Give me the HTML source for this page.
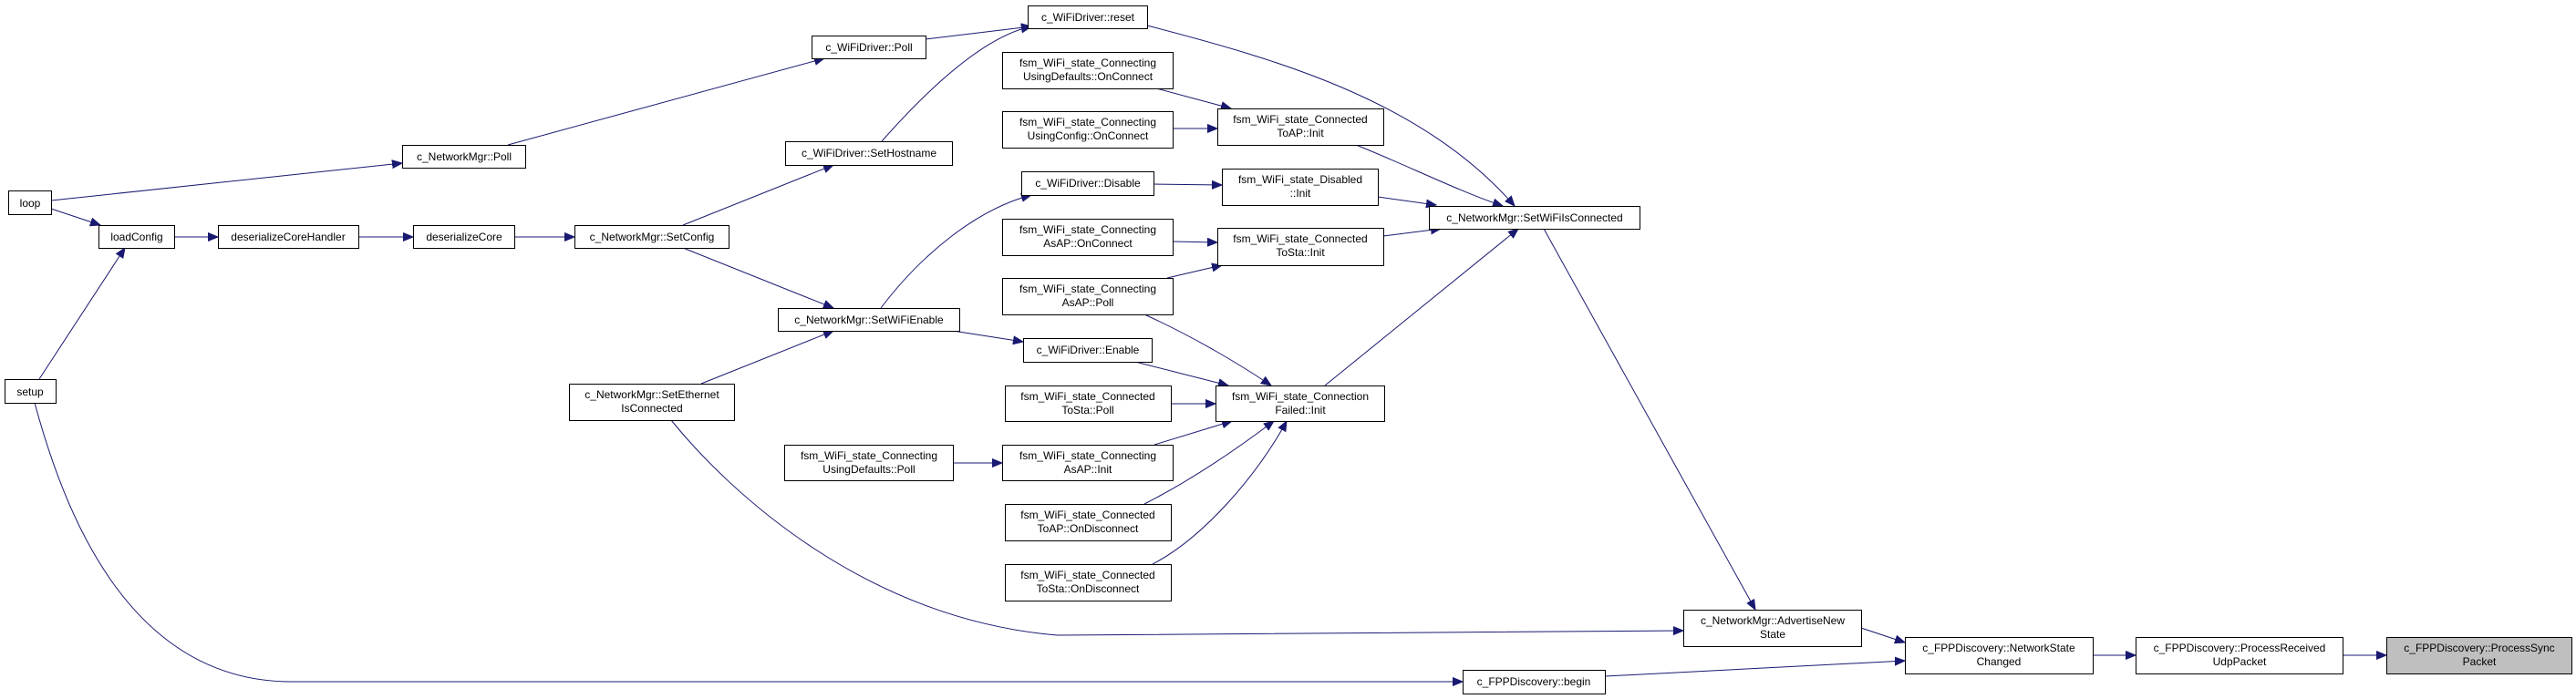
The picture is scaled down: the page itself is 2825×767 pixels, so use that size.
<!DOCTYPE html>
<html><head><meta charset="utf-8"><style>
html,body{margin:0;padding:0;background:#fff}
svg{display:block}
text{font-family:"Liberation Sans",sans-serif;font-size:12px;fill:#000;text-anchor:middle}
.n{fill:#fff;stroke:#000;stroke-width:1}
.e{fill:none;stroke:#191970;stroke-width:1}
</style></head><body>
<svg width="2825" height="767" viewBox="0 0 2825 767" xmlns="http://www.w3.org/2000/svg">
<defs><marker id="a" markerUnits="userSpaceOnUse" markerWidth="12" markerHeight="10" refX="11" refY="5" orient="auto"><path d="M0,0.5 L11,5 L0,9.5 z" fill="#191970" stroke="#191970"/></marker></defs>
<g marker-end="url(#a)">
<path class="e" d="M56,220 L441,179"/>
<path class="e" d="M56,229 L110,247"/>
<path class="e" d="M43,416 L137,272"/>
<path class="e" d="M38,442 C70,560 140,748 320,748 L1604,748"/>
<path class="e" d="M191,260 L239,260"/>
<path class="e" d="M393,260 L453,260"/>
<path class="e" d="M564,260 L630,260"/>
<path class="e" d="M557,159 L904,64"/>
<path class="e" d="M749,247 L914,181"/>
<path class="e" d="M749,272 L914,338"/>
<path class="e" d="M769,421 L914,363"/>
<path class="e" d="M736,461 C800,540 950,680 1160,697 L1846,692"/>
<path class="e" d="M1015,43 L1131,29"/>
<path class="e" d="M967,155 C1020,95 1080,40 1131,29"/>
<path class="e" d="M966,338 C1010,280 1070,230 1131,214"/>
<path class="e" d="M1045,363 L1122,375"/>
<path class="e" d="M1258,28 C1400,65 1560,110 1661,226"/>
<path class="e" d="M1268,97 L1350,119"/>
<path class="e" d="M1286,141 L1335,141"/>
<path class="e" d="M1487,159 C1540,180 1600,210 1648,226"/>
<path class="e" d="M1265,202 L1340,203"/>
<path class="e" d="M1511,216 L1575,225"/>
<path class="e" d="M1286,265 L1335,266"/>
<path class="e" d="M1517,259 L1580,251"/>
<path class="e" d="M1280,305 L1340,291"/>
<path class="e" d="M1255,345 C1310,370 1360,400 1394,423"/>
<path class="e" d="M1245,397 L1347,423"/>
<path class="e" d="M1284,443 L1333,443"/>
<path class="e" d="M1045,508 L1099,508"/>
<path class="e" d="M1266,488 L1351,462"/>
<path class="e" d="M1255,553 C1310,525 1360,490 1397,462"/>
<path class="e" d="M1264,619 C1320,590 1380,520 1411,462"/>
<path class="e" d="M1453,423 L1665,251"/>
<path class="e" d="M1693,251 L1925,669"/>
<path class="e" d="M2041,689 L2089,705"/>
<path class="e" d="M1760,742 L2089,725"/>
<path class="e" d="M2295,719 L2342,719"/>
<path class="e" d="M2569,719 L2617,719"/>
</g>
<g>
<rect class="n" x="9.5" y="209.5" width="47" height="26"/><text x="33" y="227">loop</text>
<rect class="n" x="108.5" y="247.5" width="83" height="25"/><text x="150" y="264">loadConfig</text>
<rect class="n" x="239.5" y="247.5" width="154" height="25"/><text x="316" y="264">deserializeCoreHandler</text>
<rect class="n" x="453.5" y="247.5" width="111" height="25"/><text x="509" y="264">deserializeCore</text>
<rect class="n" x="630.5" y="247.5" width="169" height="25"/><text x="715" y="264">c_NetworkMgr::SetConfig</text>
<rect class="n" x="441.5" y="159.5" width="135" height="25"/><text x="509" y="176">c_NetworkMgr::Poll</text>
<rect class="n" x="5.5" y="416.5" width="56" height="26"/><text x="33" y="434">setup</text>
<rect class="n" x="624.5" y="421.5" width="181" height="40"/><text x="715" y="437">c_NetworkMgr::SetEthernet</text><text x="715" y="452">IsConnected</text>
<rect class="n" x="1127.5" y="6.5" width="131" height="25"/><text x="1193" y="23">c_WiFiDriver::reset</text>
<rect class="n" x="890.5" y="39.5" width="125" height="25"/><text x="953" y="56">c_WiFiDriver::Poll</text>
<rect class="n" x="861.5" y="155.5" width="183" height="26"/><text x="953" y="172">c_WiFiDriver::SetHostname</text>
<rect class="n" x="1099.5" y="57.5" width="187" height="40"/><text x="1193" y="73">fsm_WiFi_state_Connecting</text><text x="1193" y="88">UsingDefaults::OnConnect</text>
<rect class="n" x="1099.5" y="122.5" width="187" height="40"/><text x="1193" y="138">fsm_WiFi_state_Connecting</text><text x="1193" y="153">UsingConfig::OnConnect</text>
<rect class="n" x="1335.5" y="119.5" width="182" height="40"/><text x="1426" y="135">fsm_WiFi_state_Connected</text><text x="1426" y="150">ToAP::Init</text>
<rect class="n" x="1120.5" y="188.5" width="145" height="26"/><text x="1193" y="205">c_WiFiDriver::Disable</text>
<rect class="n" x="1340.5" y="185.5" width="171" height="40"/><text x="1426" y="201">fsm_WiFi_state_Disabled</text><text x="1426" y="216">::Init</text>
<rect class="n" x="1567.5" y="226.5" width="231" height="25"/><text x="1683" y="243">c_NetworkMgr::SetWiFiIsConnected</text>
<rect class="n" x="1099.5" y="240.5" width="187" height="40"/><text x="1193" y="256">fsm_WiFi_state_Connecting</text><text x="1193" y="271">AsAP::OnConnect</text>
<rect class="n" x="1335.5" y="250.5" width="182" height="41"/><text x="1426" y="266">fsm_WiFi_state_Connected</text><text x="1426" y="281">ToSta::Init</text>
<rect class="n" x="1099.5" y="305.5" width="187" height="40"/><text x="1193" y="321">fsm_WiFi_state_Connecting</text><text x="1193" y="336">AsAP::Poll</text>
<rect class="n" x="853.5" y="338.5" width="199" height="25"/><text x="953" y="355">c_NetworkMgr::SetWiFiEnable</text>
<rect class="n" x="1122.5" y="371.5" width="141" height="26"/><text x="1193" y="388">c_WiFiDriver::Enable</text>
<rect class="n" x="1102.5" y="423.5" width="182" height="39"/><text x="1193" y="439">fsm_WiFi_state_Connected</text><text x="1193" y="454">ToSta::Poll</text>
<rect class="n" x="1333.5" y="423.5" width="185" height="39"/><text x="1426" y="439">fsm_WiFi_state_Connection</text><text x="1426" y="454">Failed::Init</text>
<rect class="n" x="860.5" y="488.5" width="185" height="39"/><text x="953" y="504">fsm_WiFi_state_Connecting</text><text x="953" y="519">UsingDefaults::Poll</text>
<rect class="n" x="1099.5" y="488.5" width="187" height="39"/><text x="1193" y="504">fsm_WiFi_state_Connecting</text><text x="1193" y="519">AsAP::Init</text>
<rect class="n" x="1102.5" y="553.5" width="182" height="40"/><text x="1193" y="569">fsm_WiFi_state_Connected</text><text x="1193" y="584">ToAP::OnDisconnect</text>
<rect class="n" x="1102.5" y="619.5" width="182" height="40"/><text x="1193" y="635">fsm_WiFi_state_Connected</text><text x="1193" y="650">ToSta::OnDisconnect</text>
<rect class="n" x="1604.5" y="735.5" width="156" height="26"/><text x="1682" y="752">c_FPPDiscovery::begin</text>
<rect class="n" x="1846.5" y="669.5" width="195" height="40"/><text x="1944" y="685">c_NetworkMgr::AdvertiseNew</text><text x="1944" y="700">State</text>
<rect class="n" x="2089.5" y="699.5" width="206" height="40"/><text x="2192" y="715">c_FPPDiscovery::NetworkState</text><text x="2192" y="730">Changed</text>
<rect class="n" x="2342.5" y="699.5" width="227" height="40"/><text x="2456" y="715">c_FPPDiscovery::ProcessReceived</text><text x="2456" y="730">UdpPacket</text>
<rect x="2617.5" y="699.5" width="203" height="40" fill="#bfbfbf" stroke="#000"/><text x="2719" y="715">c_FPPDiscovery::ProcessSync</text><text x="2719" y="730">Packet</text>
</g>
</svg>
</body></html>
